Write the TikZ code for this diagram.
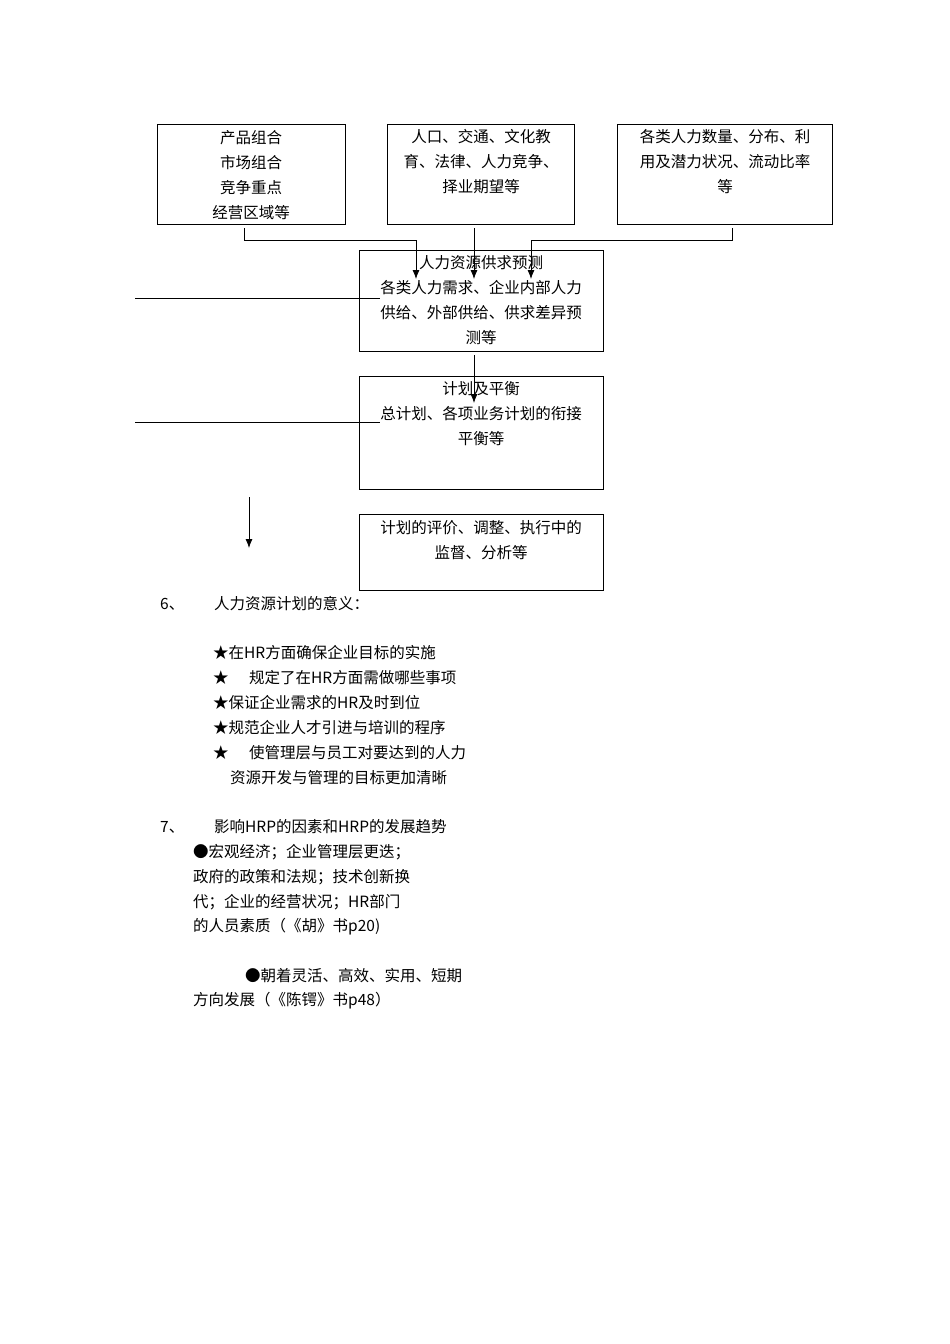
\documentclass[tikz,border=0pt]{standalone}
\usepackage{fontspec}
\setmainfont{Noto Sans CJK SC}
\usetikzlibrary{arrows.meta}
\begin{document}
\begin{tikzpicture}[x=1pt,y=-1pt,
  bx/.style={draw,line width=0.8pt},
  tx/.style={inner sep=0pt,font=\fontsize{15.5}{25}\selectfont,align=center},
  lt/.style={inner sep=0pt,anchor=west,font=\fontsize{15.5}{25}\selectfont},
  ar/.style={line width=0.8pt,-{Latex[length=9pt,width=7pt]}},
  ln/.style={line width=0.8pt}]
\useasboundingbox (0,0) rectangle (950,1344);
\fill[white] (0,0) rectangle (950,1344);
\draw[bx] (157,124) rectangle (345,224);
\draw[bx] (387,124) rectangle (574,224);
\draw[bx] (617,124) rectangle (832,224);
\draw[bx] (359,250) rectangle (603,351);
\draw[bx] (359,376) rectangle (603,489);
\draw[bx] (359,514) rectangle (603,590);
\node[tx] (a) at (251,175) {产品组合\\市场组合\\竞争重点\\经营区域等};
\node[tx] (b) at (481,162) {人口、交通、文化教\\育、法律、人力竞争、\\择业期望等};
\node[tx] (c) at (725,162) {各类人力数量、分布、利\\用及潜力状况、流动比率\\等};
\node[tx] (d) at (481,300) {人力资源供求预测\\各类人力需求、企业内部人力\\供给、外部供给、供求差异预\\测等};
\node[tx] (e) at (481,414) {计划及平衡\\总计划、各项业务计划的衔接\\平衡等};
\node[tx] (f) at (481,540) {计划的评价、调整、执行中的\\监督、分析等};
\coordinate (a1) at (244,228); \coordinate (a2) at (244,240); \coordinate (a3) at (416,240); \coordinate (a4) at (416,279);
\coordinate (b1) at (474,228); \coordinate (b4) at (474,279);
\coordinate (c1) at (732,228); \coordinate (c2) at (732,240); \coordinate (c3) at (531,240); \coordinate (c4) at (531,279);
\draw[ar] (a1)--(a2)--(a3)--(a4);
\draw[ar] (b1)--(b4);
\draw[ar] (c1)--(c2)--(c3)--(c4);
\coordinate (d1) at (474,355); \coordinate (d2) at (474,403);
\draw[ar] (d1)--(d2);
\coordinate (l1) at (135,298); \coordinate (l2) at (380,298);
\coordinate (m1) at (135,422); \coordinate (m2) at (380,422);
\draw[ln] (l1)--(l2); \draw[ln] (m1)--(m2);
\coordinate (g1) at (249,497); \coordinate (g2) at (249,548);
\draw[ar] (g1)--(g2);
\node[lt] (s6) at (160,604) {6、};
\node[lt] (t6) at (214,604) {人力资源计划的意义：};
\node[lt] (p1) at (213,653) {★在HR方面确保企业目标的实施};
\node[lt] (p2s) at (213,678) {★};
\node[lt] (p2) at (249,678) {规定了在HR方面需做哪些事项};
\node[lt] (p3) at (213,703) {★保证企业需求的HR及时到位};
\node[lt] (p4) at (213,728) {★规范企业人才引进与培训的程序};
\node[lt] (p5s) at (213,753) {★};
\node[lt] (p5) at (249,753) {使管理层与员工对要达到的人力};
\node[lt] (p6) at (230,778) {资源开发与管理的目标更加清晰};
\node[lt] (s7) at (160,827) {7、};
\node[lt] (t7) at (214,827) {影响HRP的因素和HRP的发展趋势};
\node[lt] (q1) at (193,852) {●宏观经济；企业管理层更迭；};
\node[lt] (q2) at (193,877) {政府的政策和法规；技术创新换};
\node[lt] (q3) at (193,902) {代；企业的经营状况；HR部门};
\node[lt] (q4) at (193,927) {的人员素质（《胡》书p20)};
\node[lt] (q5) at (245,976) {●朝着灵活、高效、实用、短期};
\node[lt] (q6) at (193,1001) {方向发展（《陈锷》书p48）};
\end{tikzpicture}
\end{document}
